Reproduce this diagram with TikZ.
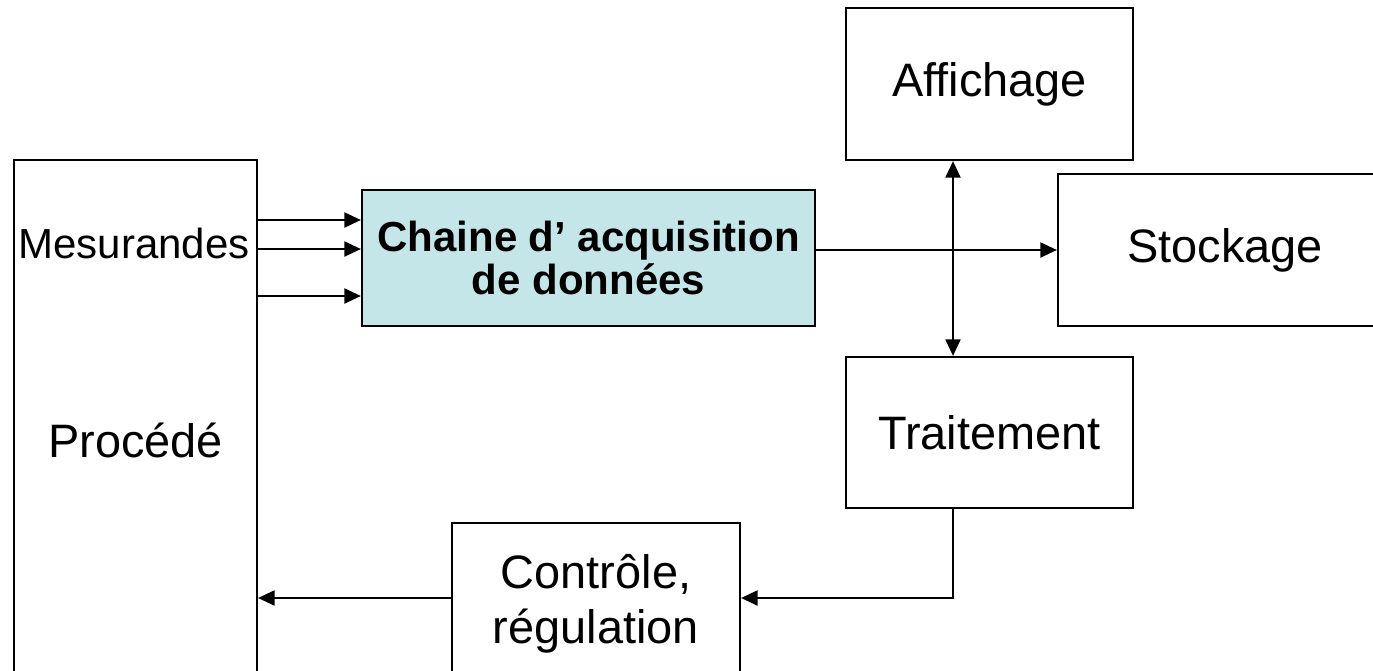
\documentclass[tikz,border=0pt]{standalone}
\usepackage{fontspec}
\setmainfont{Liberation Sans}
\usetikzlibrary{arrows.meta}
\definecolor{acqfill}{RGB}{197,230,233}
\begin{document}
\begin{tikzpicture}[x=0.02cm,y=-0.02cm,
  box/.style={draw, line width=0.045cm, rectangle, inner sep=0pt, align=center,
              font=\fontsize{26.7}{31.3}\selectfont},
  arr/.style={line width=0.04cm, -{Triangle[length=0.33cm,width=0.3cm]}},
  darr/.style={line width=0.04cm, {Triangle[length=0.33cm,width=0.3cm]}-{Triangle[length=0.33cm,width=0.3cm]}}]
\useasboundingbox (0,0) rectangle (1373,670);
\node[box, minimum width=4.86cm, minimum height=11.2cm] (proc) at (135.5,440) {Procédé};
\node[font=\fontsize{23.9}{28}\selectfont, inner sep=0pt] (mes) at (134,243) {Mesurandes};
\node[box, fill=acqfill, minimum width=9.06cm, minimum height=2.72cm,
      font=\fontsize{23.9}{25}\selectfont\bfseries] (acq) at (588.5,258) {Chaine d’ acquisition\\de données};
\node[box, minimum width=5.74cm, minimum height=3.04cm] (aff) at (989.5,84) {Affichage};
\node[box, minimum width=6.68cm, minimum height=3.04cm] (sto) at (1225,250) {Stockage};
\node[box, minimum width=5.74cm, minimum height=3.02cm] (trt) at (989.5,432.5) {Traitement};
\node[box, minimum width=5.76cm, minimum height=3.24cm] (ctl) at (596,604) {Contrôle,\\régulation};
\coordinate (y1) at (0,220);
\coordinate (y2) at (0,249);
\coordinate (y3) at (0,296);
\coordinate (ys) at (0,250);
\coordinate (vx) at (953,0);
\coordinate (yb) at (0,598);
\draw[arr] (proc.east |- y1) -- (acq.west |- y1);
\draw[arr] (proc.east |- y2) -- (acq.west |- y2);
\draw[arr] (proc.east |- y3) -- (acq.west |- y3);
\draw[arr] (acq.east |- ys) -- (sto.west |- ys);
\draw[darr] (aff.south -| vx) -- (trt.north -| vx);
\draw[arr] (trt.south -| vx) -- (vx |- yb) -- (ctl.east |- yb);
\draw[arr] (ctl.west |- yb) -- (proc.east |- yb);
\end{tikzpicture}
\end{document}
